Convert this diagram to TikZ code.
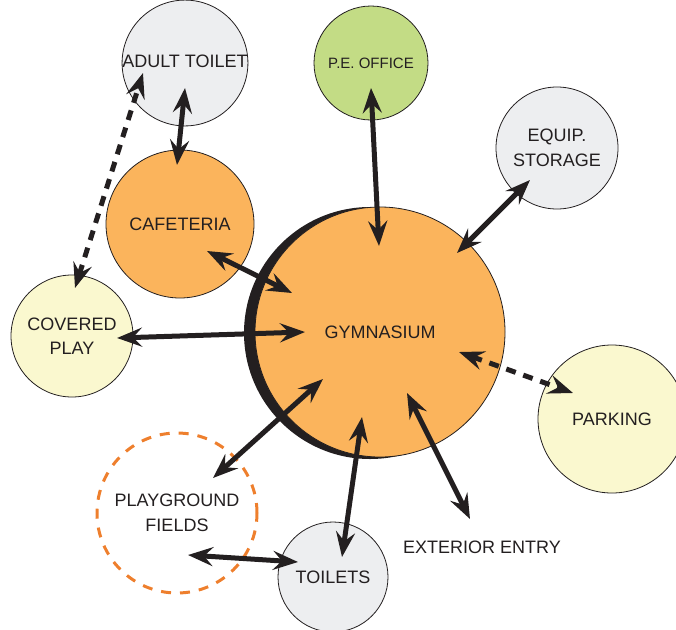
\documentclass[tikz,border=0pt]{standalone}
\usepackage{fontspec}
\setmainfont{Liberation Sans}
\usetikzlibrary{arrows.meta}

\definecolor{ink}{HTML}{231F20}
\definecolor{gymorange}{HTML}{FBB45C}
\definecolor{roomgray}{HTML}{EDEEF0}
\definecolor{officegreen}{HTML}{C3DC85}
\definecolor{playyellow}{HTML}{FAF8CF}
\definecolor{fieldorange}{HTML}{EE7F2D}

\tikzset{
  roomtext/.style={text=ink, align=center, font=\fontsize{18}{24.5}\selectfont},
  room/.style={roomtext, circle, draw=ink, line width=0.8pt, inner sep=0pt},
  link/.style={draw=ink, line width=5pt, {Stealth[length=25pt,width=19pt,inset=9pt]}-{Stealth[length=25pt,width=19pt,inset=9pt]}},
  dashlink/.style={link, dash pattern=on 10pt off 8pt},
}

\newcommand{\Room}[6]{% name, x, y, radius, colour, text
  \node[room, fill=#5, minimum size={2*(#4)*1pt}] (#1) at (#2,#3) {#6};
}

\begin{document}
\begin{tikzpicture}[x=1pt, y=-1pt]
  \useasboundingbox (0,0) rectangle (676,629);
  %
  \Room{adult}{185}{63}{55}{roomgray}{\raisebox{3pt}{ADULT TOILET}}
  \Room{pe}{371}{63}{57}{officegreen}{\fontsize{15}{18}\selectfont P.E. OFFICE}
  \Room{equip}{557}{148}{61}{roomgray}{EQUIP.\\STORAGE}
  \Room{cafe}{180}{224}{74}{gymorange}{CAFETERIA}
  \Room{covered}{72}{336}{61}{playyellow}{COVERED\\PLAY}
  \Room{parking}{612}{419}{74}{playyellow}{PARKING}
  \Room{toilets}{333}{577}{55}{roomgray}{TOILETS}
  \node[roomtext, circle, draw=fieldorange, line width=3pt, dash pattern=on 10pt off 9pt,
    minimum size=160pt] (fields) at (177,513) {PLAYGROUND\\FIELDS};
  % gymnasium with its shadow
  \fill[ink] (370,333) circle[radius=126];
  \Room{gym}{380}{332}{125}{gymorange}{GYMNASIUM}
  \node[roomtext] (entry) at (482,547) {EXTERIOR ENTRY};
  %
  \draw[link] ([shift={(0,25)}]adult.center) -- ([shift={(-3,-59)}]cafe.center);
  \draw[dashlink] ([shift={(3,-48)}]covered.center) -- ([shift={(-42,10)}]adult.center);
  \draw[link] ([shift={(0,25)}]pe.center) -- ([shift={(-1,-86)}]gym.center);
  \draw[link] ([shift={(-27,32)}]equip.center) -- ([shift={(77,-79)}]gym.center);
  \draw[link] ([shift={(27,27)}]cafe.center) -- ([shift={(-88,-39)}]gym.center);
  \draw[link] ([shift={(45,2)}]covered.center) -- ([shift={(-75,0)}]gym.center);
  \draw[dashlink] ([shift={(79,20)}]gym.center) -- ([shift={(-39,-26)}]parking.center);
  \draw[link] ([shift={(-57,47)}]gym.center) -- ([shift={(36,-35)}]fields.center);
  \draw[link] ([shift={(-18,85)}]gym.center) -- ([shift={(9,-20)}]toilets.center);
  \draw[link] ([shift={(27,61)}]gym.center) -- ([shift={(-12,-28)}]entry.center);
  \draw[link] ([shift={(11,42)}]fields.center) -- ([shift={(-35,-15)}]toilets.center);
\end{tikzpicture}
\end{document}
